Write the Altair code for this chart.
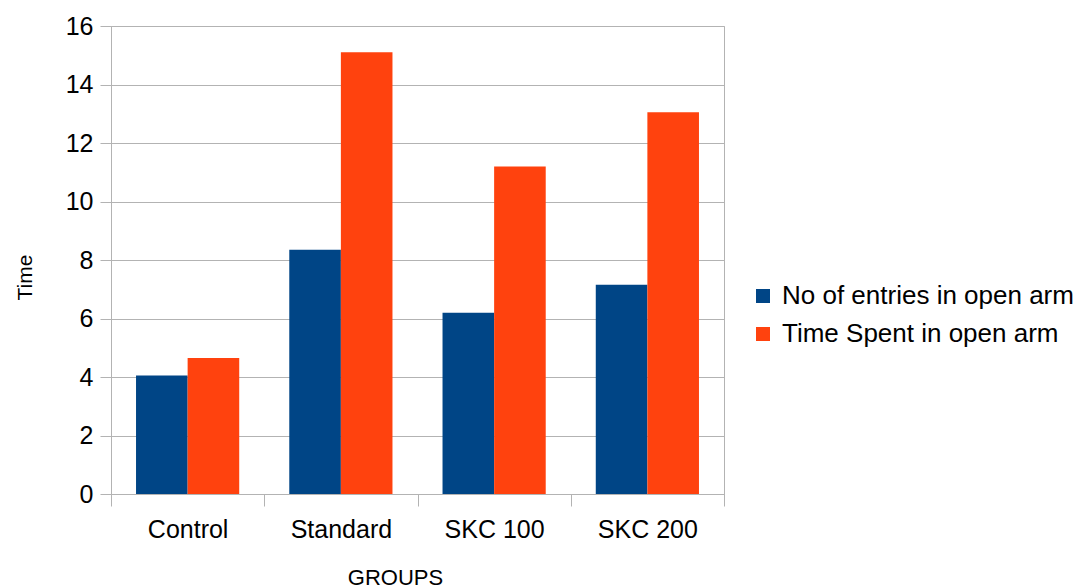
import altair as alt
import pandas as pd

groups = ["Control", "Standard", "SKC 100", "SKC 200"]
series = ["No of entries in open arm", "Time Spent in open arm"]
entries = [4.05, 8.35, 6.2, 7.15]
time_spent = [4.65, 15.1, 11.2, 13.05]
colors = ["#004586", "#ff420e"]
y_ticks = [0, 2, 4, 6, 8, 10, 12, 14, 16]

rows = []
for g, a, b in zip(groups, entries, time_spent):
    rows.append({"group": g, "series": series[0], "value": a})
    rows.append({"group": g, "series": series[1], "value": b})
df = pd.DataFrame(rows)

FONT = "Liberation Sans"
GRID = "#b3b3b3"

bars = alt.Chart(df).mark_bar().encode(
    x=alt.X(
        "group:N",
        sort=groups,
        scale=alt.Scale(paddingInner=0, paddingOuter=0),
        axis=alt.Axis(
            title="GROUPS",
            labelAngle=0,
            labelFontSize=25,
            labelColor="#000000",
            labelFont=FONT,
            labelPadding=11,
            tickBand="extent",
            tickSize=12,
            tickColor=GRID,
            domainColor=GRID,
            grid=False,
            titleFont=FONT,
            titleFontSize=22,
            titleFontWeight="normal",
            titleColor="#000000",
            titleX=284,
            titleY=90,
            titleAlign="center",
            titleBaseline="alphabetic",
        ),
    ),
    xOffset=alt.XOffset(
        "series:N",
        sort=series,
        scale=alt.Scale(paddingInner=0, paddingOuter=0.485),
    ),
    y=alt.Y(
        "value:Q",
        scale=alt.Scale(domain=[0, 16], nice=False),
        axis=alt.Axis(
            title="Time",
            values=y_ticks,
            labelFontSize=25,
            labelColor="#000000",
            labelFont=FONT,
            labelPadding=7,
            tickSize=11,
            tickColor=GRID,
            domainColor=GRID,
            gridColor=GRID,
            titleFont=FONT,
            titleFontSize=21,
            titleFontWeight="normal",
            titleColor="#000000",
            titleAngle=270,
            titleX=-80,
            titleY=251,
            titleAlign="center",
            titleBaseline="alphabetic",
        ),
    ),
    color=alt.Color(
        "series:N",
        sort=series,
        scale=alt.Scale(domain=series, range=colors),
        legend=alt.Legend(
            title=None,
            orient="none",
            legendX=639,
            legendY=257,
            symbolType="square",
            symbolSize=196,
            symbolStrokeWidth=0,
            labelFont=FONT,
            labelFontSize=26,
            labelColor="#000000",
            labelOffset=6,
            rowPadding=12,
            padding=0,
            labelLimit=400,
        ),
    ),
)

chart = bars.properties(
    width=613,
    height=468,
    autosize=alt.AutoSizeParams(type="none"),
    padding={"left": 111, "top": 26, "right": 350, "bottom": 94},
    background="#ffffff",
).configure_view(stroke=GRID, strokeWidth=1)

chart.save("out.html", embed_options={"renderer": "svg", "actions": False})
